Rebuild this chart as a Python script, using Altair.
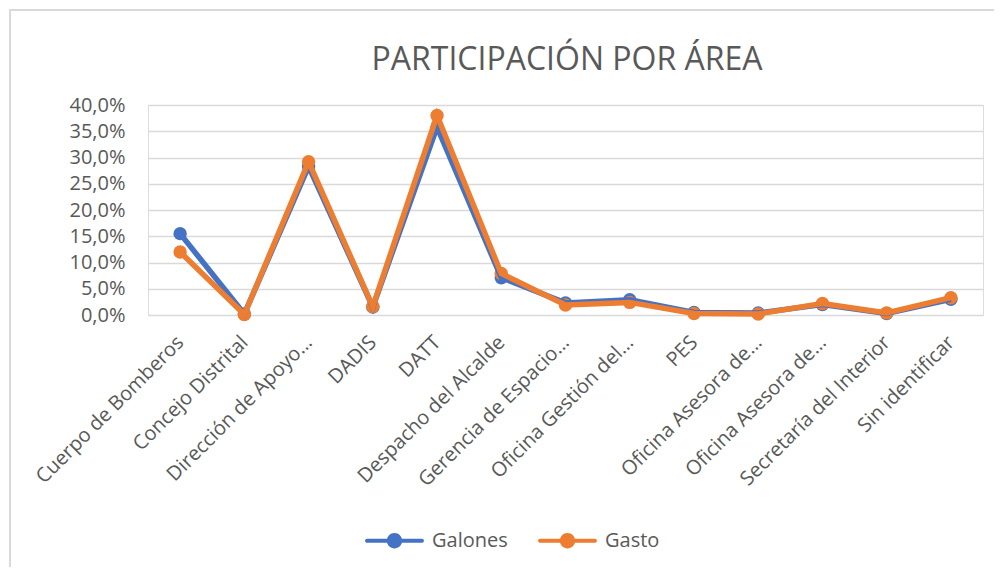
import altair as alt
import pandas as pd

titulo = "PARTICIPACIÓN POR ÁREA"
categorias = [
    "Cuerpo de Bomberos", "Concejo Distrital", "Dirección de Apoyo…", "DADIS", "DATT",
    "Despacho del Alcalde", "Gerencia de Espacio…", "Oficina Gestión del…", "PES",
    "Oficina Asesora de…", "Oficina Asesora de… ", "Secretaría del Interior", "Sin identificar",
]
galones = [15.5, 0.2, 28.3, 1.5, 35.8, 7.1, 2.3, 2.9, 0.5, 0.4, 2.0, 0.3, 3.0]
gasto = [12.0, 0.1, 29.2, 1.6, 38.0, 7.9, 1.9, 2.4, 0.3, 0.2, 2.2, 0.4, 3.3]
series = ["Galones", "Gasto"]
colores = ["#4472C4", "#ED7D31"]
y_ticks = [0, 5, 10, 15, 20, 25, 30, 35, 40]

rows = []
for s, vals in zip(series, [galones, gasto]):
    for i, (c, v) in enumerate(zip(categorias, vals)):
        rows.append({"Área": c, "Serie": s, "Valor": v, "orden": i})
df = pd.DataFrame(rows)

FONT = "Open Sans"
GREY = "#595959"
FS = 20
legend_path = ("M-1,-0.075 L1,-0.075 A0.075,0.075 0 0 1 1,0.075 L-1,0.075 A0.075,0.075 0 0 1 -1,-0.075 Z "
               "M0.28,0 A0.28,0.28 0 1 1 -0.28,0 A0.28,0.28 0 1 1 0.28,0 Z")

x = alt.X("Área:N", sort=categorias, title=None,
          scale=alt.Scale(type="point", padding=0.5),
          axis=alt.Axis(labelAngle=-45, labelAlign="right", labelBaseline="middle",
                        labelFontSize=FS, labelColor=GREY, labelFont=FONT,
                        ticks=False, domain=False, grid=False, labelPadding=24,
                        labelLimit=400))
y = alt.Y("Valor:Q", title=None,
          scale=alt.Scale(domain=[0, 40], nice=False),
          axis=alt.Axis(values=y_ticks, labelExpr="replace(format(datum.value,'.1f'),'.',',') + '%'",
                        labelFontSize=FS, labelColor=GREY, labelFont=FONT,
                        ticks=False, domain=False, grid=True, gridColor="#D9D9D9",
                        gridWidth=1.5, labelPadding=23))
color = alt.Color("Serie:N", scale=alt.Scale(domain=series, range=colores),
                  legend=alt.Legend(title=None, orient="none", direction="horizontal",
                                    legendX=219, legendY=408,
                                    symbolType=legend_path, symbolSize=3000,
                                    symbolStrokeWidth=0, labelFontSize=FS, labelColor=GREY,
                                    labelFont=FONT, columnPadding=30, labelOffset=10))

# chart frame (decoration only)
frame = alt.Chart(pd.DataFrame({"k": [0]})).mark_rect(
    fill=None, stroke="#D9D9D9", strokeWidth=2, clip=False
).encode(x=alt.value(-138), x2=alt.value(900), y=alt.value(-95), y2=alt.value(500))

title_mark = alt.Chart(pd.DataFrame({"t": [titulo]})).mark_text(
    font=FONT, fontSize=32, color=GREY, align="center", baseline="alphabetic", clip=False
).encode(text="t:N", x=alt.value(419), y=alt.value(-35))

points = alt.Chart(df).mark_point(filled=True, size=180, opacity=1).encode(
    x=x, y=y, color=color, order="orden:Q")
lines = alt.Chart(df).mark_line(strokeWidth=5.5).encode(
    x=x, y=y, color=color, order="orden:Q")

chart = alt.layer(frame, title_mark, points, lines).properties(
    width=835, height=210,
    autosize=alt.AutoSizeParams(type="none"),
    padding={"left": 140, "top": 97, "right": 11, "bottom": 252},
).configure_view(stroke=None).configure(background="white")

chart.save("out.html", embed_options={"renderer": "svg", "actions": False})
